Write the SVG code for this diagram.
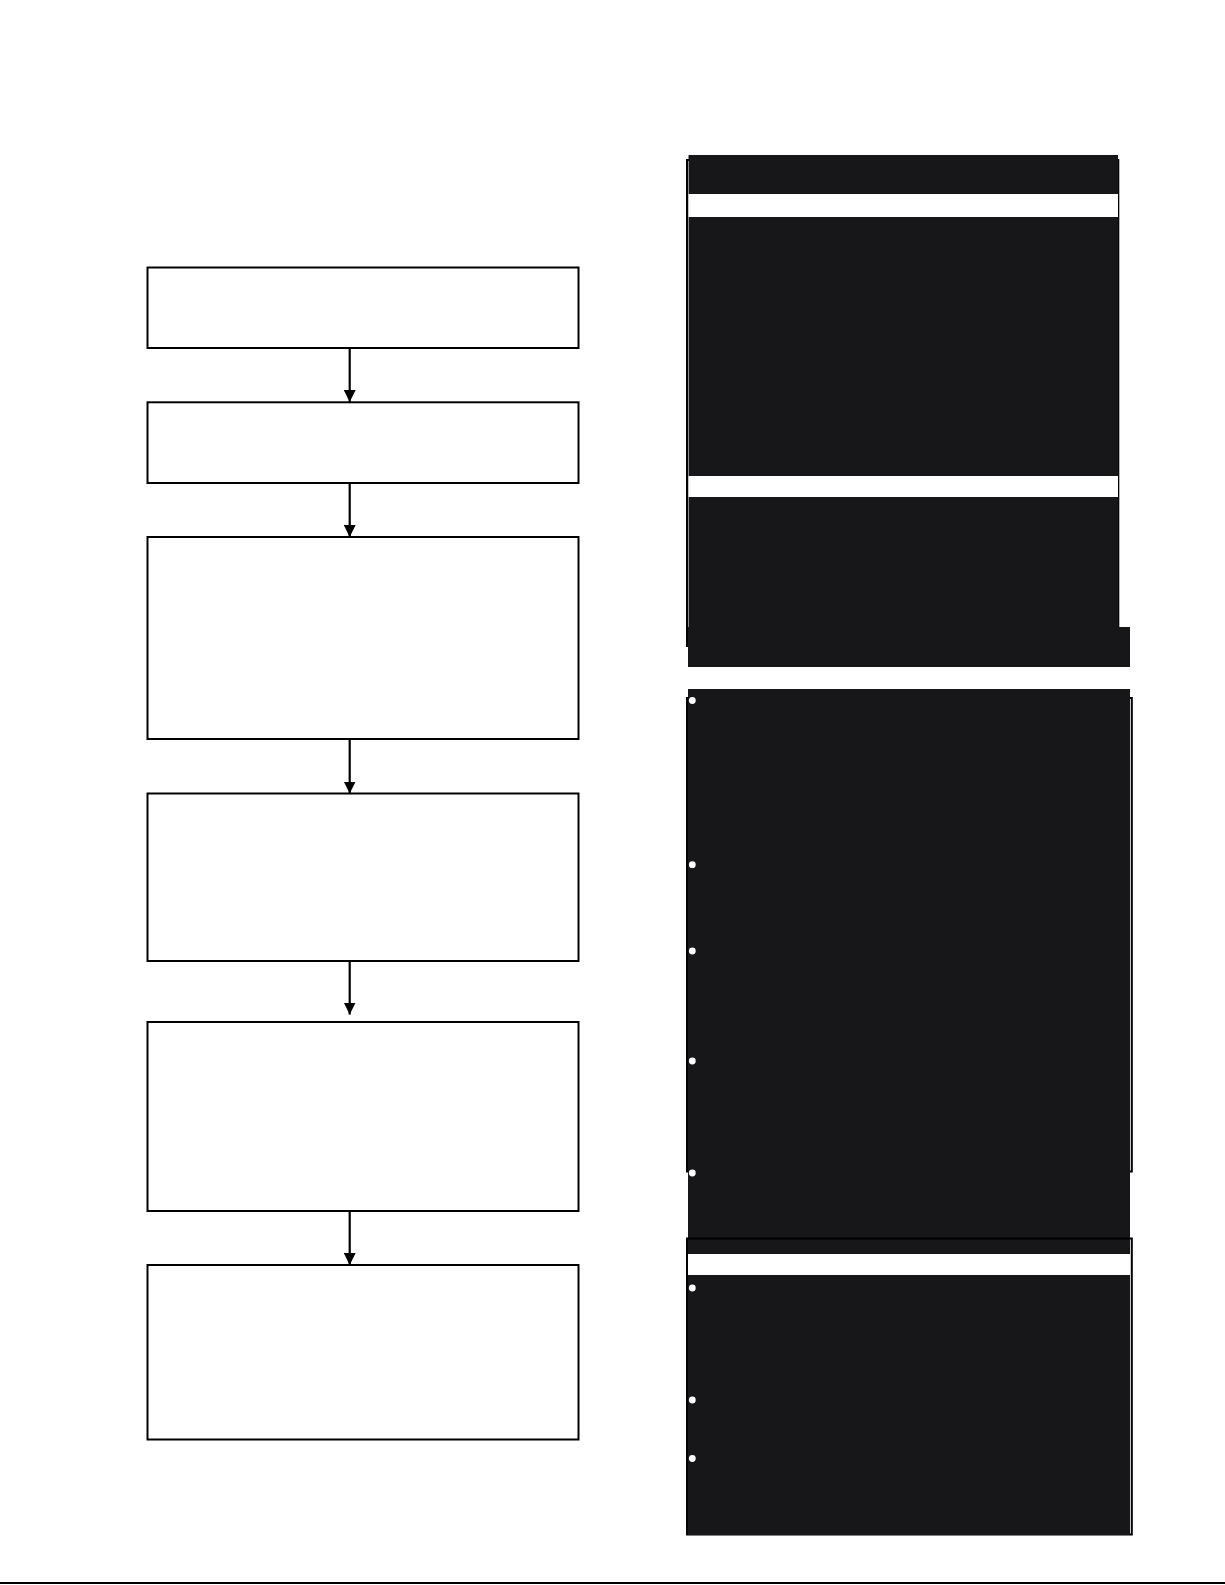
<svg xmlns="http://www.w3.org/2000/svg" width="1225" height="1585" viewBox="0 0 1225 1585">
<style>
.box{fill:#ffffff;stroke:#000000;stroke-width:2}
.edge{stroke:#000000;stroke-width:2.2;fill:none}
.dark{fill:#171719}
.gap{fill:#ffffff}
.frame{fill:none;stroke:#000000;stroke-width:2}
.dot{fill:#ffffff}
</style>
<defs>
<marker id="ah" markerWidth="13" markerHeight="12" refX="12" refY="6" orient="auto" markerUnits="userSpaceOnUse">
<path d="M0,0 L12,6 L0,12 Z" fill="#000000"/>
</marker>
</defs>
<rect width="1225" height="1585" fill="#ffffff"/>
<g id="step1"><rect class="box" x="147.5" y="267.5" width="431" height="80.5"/></g>
<g id="step2"><rect class="box" x="147.5" y="402.3" width="431" height="80.7"/></g>
<g id="step3"><rect class="box" x="147.5" y="537" width="431" height="202"/></g>
<g id="step4"><rect class="box" x="147.5" y="793.5" width="431" height="167.5"/></g>
<g id="step5"><rect class="box" x="147.5" y="1022" width="431" height="189"/></g>
<g id="step6"><rect class="box" x="147.5" y="1265" width="431" height="174.5"/></g>
<g id="connectors">
<line class="edge" x1="349.7" y1="349" x2="349.7" y2="402" marker-end="url(#ah)"/>
<line class="edge" x1="349.7" y1="484" x2="349.7" y2="537" marker-end="url(#ah)"/>
<line class="edge" x1="349.7" y1="740" x2="349.7" y2="793.5" marker-end="url(#ah)"/>
<line class="edge" x1="349.7" y1="962" x2="349.7" y2="1014.5" marker-end="url(#ah)"/>
<line class="edge" x1="349.7" y1="1212" x2="349.7" y2="1265" marker-end="url(#ah)"/>
</g>
<g id="panel-top">
<rect class="frame" x="687" y="160" width="431.3" height="486"/>
<rect class="dark" x="688.5" y="155" width="429.5" height="472"/>
<rect class="gap" x="688.5" y="194" width="429.5" height="23"/>
<rect class="gap" x="688.5" y="476" width="429.5" height="21"/>
<rect class="dark" x="688" y="627" width="442" height="40"/>
</g>
<g id="panel-middle">
<rect class="frame" x="687" y="698" width="444.8" height="473.5"/>
<rect class="dark" x="688" y="689" width="442" height="565"/>
<circle class="dot" cx="692.3" cy="700.5" r="3.4"/>
<circle class="dot" cx="692.3" cy="864.7" r="3.4"/>
<circle class="dot" cx="692.3" cy="951" r="3.4"/>
<circle class="dot" cx="692.3" cy="1061" r="3.4"/>
<circle class="dot" cx="692.3" cy="1173" r="3.4"/>
</g>
<g id="panel-bottom">
<rect class="frame" x="687" y="1238.5" width="444.8" height="296"/>
<rect class="gap" x="688" y="1254" width="442" height="21"/>
<rect class="dark" x="688" y="1275" width="442" height="260"/>
<circle class="dot" cx="692.3" cy="1288" r="3.4"/>
<circle class="dot" cx="692.3" cy="1400" r="3.4"/>
<circle class="dot" cx="692.3" cy="1458.5" r="3.4"/>
</g>
<line x1="0" y1="1583" x2="1225" y2="1583" stroke="#000000" stroke-width="2"/>
</svg>
